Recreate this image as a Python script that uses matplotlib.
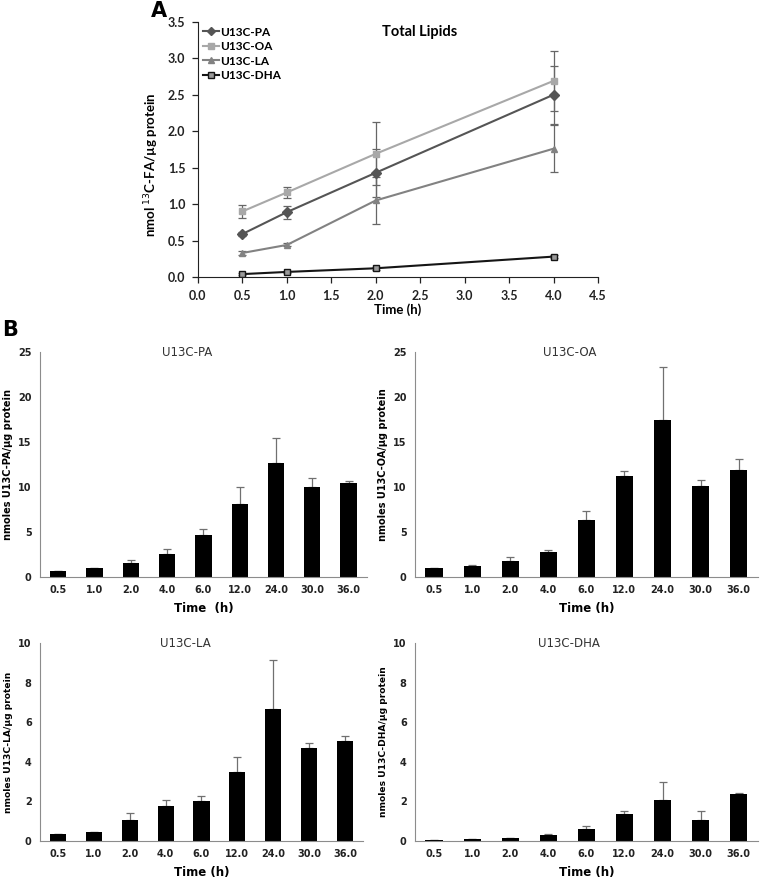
import numpy as np
import matplotlib
matplotlib.use("Agg")
import matplotlib.pyplot as plt
from matplotlib.lines import Line2D

# Panel A: total lipids time course
t_a = [0.5, 1.0, 2.0, 4.0]
pa_a = [0.59, 0.89, 1.43, 2.50]
pa_a_err = [0.03, 0.09, 0.33, 0.40]
oa_a = [0.90, 1.16, 1.69, 2.69]
oa_a_err = [0.09, 0.07, 0.43, 0.41]
la_a = [0.33, 0.44, 1.05, 1.76]
la_a_err = [0.03, 0.02, 0.32, 0.32]
dha_a = [0.04, 0.07, 0.12, 0.28]
dha_a_err = [0.01, 0.01, 0.02, 0.02]

# Panel B: bars per fatty acid
times = ["0.5", "1.0", "2.0", "4.0", "6.0", "12.0", "24.0", "30.0", "36.0"]
pa = [0.63, 0.96, 1.56, 2.56, 4.63, 8.1, 12.67, 10.0, 10.44]
pa_err = [0.07, 0.08, 0.29, 0.54, 0.70, 1.9, 2.8, 1.0, 0.23]
oa = [0.96, 1.26, 1.74, 2.78, 6.3, 11.19, 17.48, 10.15, 11.93]
oa_err = [0.08, 0.03, 0.45, 0.26, 1.07, 0.59, 5.85, 0.63, 1.18]
la = [0.35, 0.46, 1.08, 1.77, 2.03, 3.48, 6.67, 4.68, 5.05]
la_err = [0.02, 0.02, 0.31, 0.32, 0.22, 0.74, 2.45, 0.29, 0.25]
dha = [0.06, 0.09, 0.13, 0.32, 0.63, 1.35, 2.06, 1.08, 2.36]
dha_err = [0.01, 0.01, 0.04, 0.02, 0.15, 0.17, 0.93, 0.42, 0.07]

fig = plt.figure(figsize=(7.6, 8.8), dpi=100)

# ---- panel A
axA = fig.add_axes([0.2605, 0.6852, 0.5263, 0.290])
series = [
    ("U13C-PA", pa_a, pa_a_err, "#555555", "D", "#555555"),
    ("U13C-OA", oa_a, oa_a_err, "#a8a8a8", "s", "#a8a8a8"),
    ("U13C-LA", la_a, la_a_err, "#828282", "^", "#828282"),
    ("U13C-DHA", dha_a, dha_a_err, "#151515", "s", "#9a9a9a"),
]
handles = []
for name, y, e, c, m, mfc in series:
    mec = "#151515" if name == "U13C-DHA" else c
    axA.errorbar(t_a, y, yerr=e, color=c, lw=1.5, marker=m, ms=5,
                 mfc=mfc, mec=mec, ecolor="#666666", elinewidth=0.9,
                 capsize=3, capthick=0.9)
    handles.append(Line2D([], [], color=c, lw=1.5, marker=m, ms=4.5,
                          mfc=mfc, mec=mec, label=name))
axA.set_xlim(0, 4.5)
axA.set_ylim(0, 3.5)
axA.set_xticks(np.arange(0, 4.51, 0.5))
axA.set_yticks(np.arange(0, 3.51, 0.5))
axA.xaxis.set_major_formatter(matplotlib.ticker.FormatStrFormatter("%.1f"))
axA.yaxis.set_major_formatter(matplotlib.ticker.FormatStrFormatter("%.1f"))
for s in ["top", "right"]:
    axA.spines[s].set_visible(False)
for s in ["left", "bottom"]:
    axA.spines[s].set_color("#222222")
axA.tick_params(direction="out", length=4, width=0.9, colors="#222222", pad=5)
for lab in axA.get_xticklabels() + axA.get_yticklabels():
    lab.set_fontfamily("Lato")
    lab.set_fontweight("bold")
    lab.set_fontsize(9)
axA.set_xlabel("Time (h)", fontfamily="Lato", fontweight="bold", fontsize=9.5, labelpad=1)
axA.set_ylabel(r"nmol $^{13}$C-FA/µg protein", fontfamily="Lato", fontweight="bold",
               fontsize=9.5)
axA.yaxis.set_label_coords(-0.092, 0.44)
axA.text(0.555, 0.96, "Total Lipids", transform=axA.transAxes, ha="center", va="center",
         fontfamily="Lato", fontweight="bold", fontsize=10.5)
axA.legend(handles=handles, loc="upper left", bbox_to_anchor=(0.0, 1.0), frameon=False,
           prop={"family": "Lato", "weight": "bold", "size": 8.5},
           handlelength=1.4, handletextpad=0.1, labelspacing=0.3,
           borderaxespad=0)
fig.text(0.199, 0.999, "A", fontsize=15, fontweight="bold", ha="left", va="top")
fig.text(0.003, 0.636, "B", fontsize=15, fontweight="bold", ha="left", va="top")

# ---- panel B
def bar_panel(rect, vals, errs, title, ylab, ymax, yticks, ylab_size, xlab):
    ax = fig.add_axes(rect)
    x = np.arange(len(times))
    ax.bar(x, vals, width=0.45, color="black", zorder=2)
    ax.errorbar(x, vals, yerr=[np.zeros(len(vals)), errs], fmt="none",
                ecolor="#707070", elinewidth=0.9, capsize=3, capthick=0.9, zorder=1)
    ax.set_xlim(-0.5, len(times) - 0.5)
    ax.set_ylim(0, ymax)
    ax.set_yticks(yticks)
    ax.set_xticks(x)
    ax.set_xticklabels(times)
    for s in ["top", "right"]:
        ax.spines[s].set_visible(False)
    for s in ["left", "bottom"]:
        ax.spines[s].set_color("#8c8c8c")
    ax.tick_params(length=0, pad=6, labelsize=7)
    for lab in ax.get_xticklabels() + ax.get_yticklabels():
        lab.set_fontweight("bold")
        lab.set_color("#222222")
    ax.set_xlabel(xlab, fontweight="bold", fontsize=8.5, labelpad=5)
    ax.set_ylabel(ylab, fontweight="bold", fontsize=ylab_size, labelpad=4)
    ax.text(0.45, 1.0, title, transform=ax.transAxes, ha="center", va="center",
            fontsize=8.5, color="#333333")
    return ax

bar_panel([0.0526, 0.3443, 0.430, 0.2557], pa, pa_err, "U13C-PA",
          "nmoles U13C-PA/µg protein", 25, [0, 5, 10, 15, 20, 25], 7, "Time  (h)")
bar_panel([0.546, 0.3443, 0.451, 0.2557], oa, oa_err, "U13C-OA",
          "nmoles U13C-OA/µg protein", 25, [0, 5, 10, 15, 20, 25], 7, "Time (h)")
bar_panel([0.0526, 0.0443, 0.425, 0.225], la, la_err, "U13C-LA",
          "nmoles U13C-LA/µg protein", 10, [0, 2, 4, 6, 8, 10], 6.6, "Time (h)")
bar_panel([0.546, 0.0443, 0.451, 0.225], dha, dha_err, "U13C-DHA",
          "nmoles U13C-DHA/µg protein", 10, [0, 2, 4, 6, 8, 10], 6.6, "Time (h)")

fig.savefig("out.png", dpi=100)
